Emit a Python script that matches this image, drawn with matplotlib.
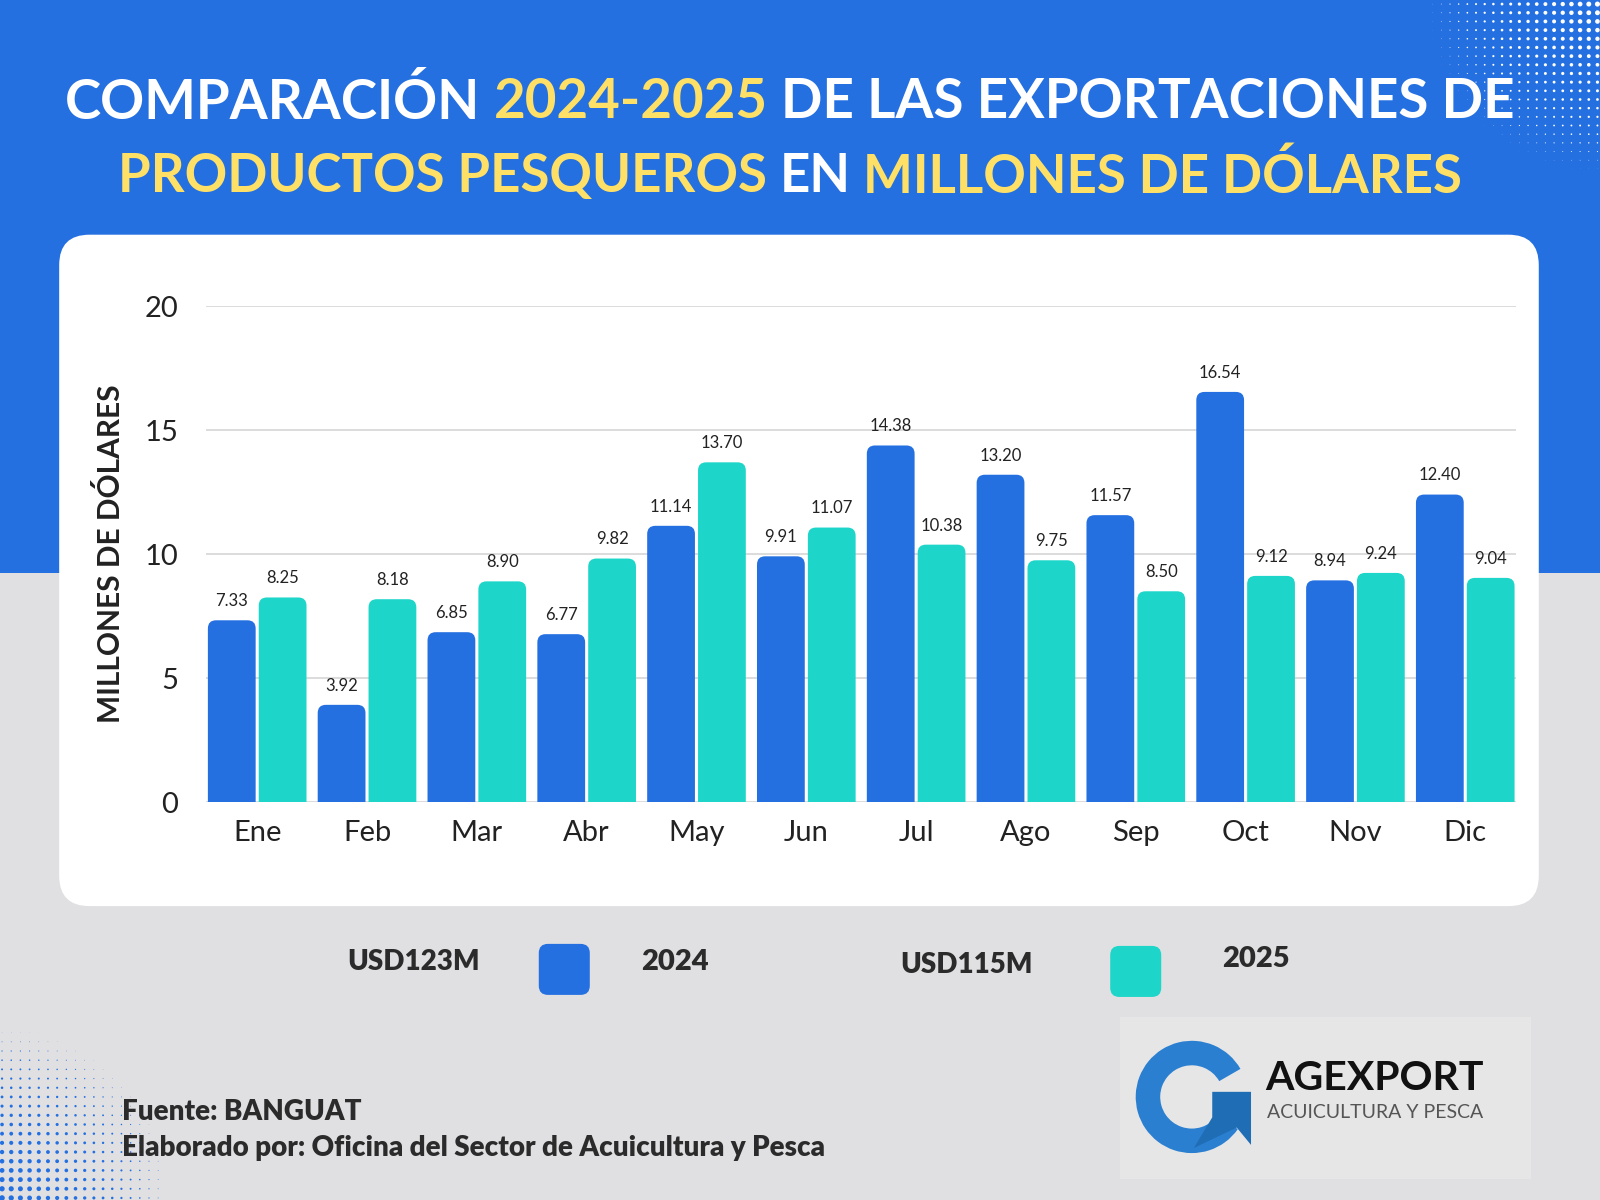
import numpy as np
import matplotlib
matplotlib.use("Agg")
import matplotlib.pyplot as plt
from matplotlib.patches import FancyBboxPatch, Rectangle, Wedge, Polygon

# Data
months = ["Ene", "Feb", "Mar", "Abr", "May", "Jun", "Jul", "Ago", "Sep", "Oct", "Nov", "Dic"]
exp_2024 = [7.33, 3.92, 6.85, 6.77, 11.14, 9.91, 14.38, 13.20, 11.57, 16.54, 8.94, 12.40]
exp_2025 = [8.25, 8.18, 8.90, 9.82, 13.70, 11.07, 10.38, 9.75, 8.50, 9.12, 9.24, 9.04]
totals = ["USD123M", "USD115M"]
years = ["2024", "2025"]

BLUE = "#2570E1"
TEAL = "#1DD6C9"
YELLOW = "#FFE066"
BG = "#E0E0E2"
DARK = "#222222"
FONT = "Lato"

# reference canvas is 1568x1176, map to figure fractions
RW, RH = 1568, 1176
def fx(x):
    return x / RW
def fy(y):
    return 1 - y / RH

fig = plt.figure(figsize=(16, 12), dpi=100)
fig.patch.set_facecolor(BG)

# blue header band
fig.patches.append(Rectangle((0, fy(562)), 1, 1 - fy(562), transform=fig.transFigure,
                             facecolor=BLUE, edgecolor="none", zorder=0))
# white card
fig.patches.append(FancyBboxPatch((fx(58), fy(888)), fx(1508) - fx(58), fy(230) - fy(888),
                                  boxstyle="round,pad=0,rounding_size=0.019",
                                  mutation_aspect=RW / RH, transform=fig.transFigure,
                                  facecolor="white", edgecolor="none", zorder=1))

# decorative dots, top right (white) and bottom left (blue)
dots = fig.add_axes([0, 0, 1, 1], zorder=0.5)
dots.set_xlim(0, RW); dots.set_ylim(RH, 0); dots.axis("off")
gx, gy = np.meshgrid(np.arange(1404, 1570, 8.5), np.arange(4, 170, 8.5))
d = np.hypot(1568 - gx, gy) / 170
s = np.clip(14 * (1 - d) ** 1.5, 0, None)
dots.scatter(gx.ravel(), gy.ravel(), s=s.ravel(), c="white", linewidths=0)
bx, by = np.meshgrid(np.arange(2, 160, 9), np.arange(1012, 1176, 9))
d2 = np.hypot(bx, 1176 - by) / 170
s2 = np.clip(16 * (1 - d2) ** 1.5, 0, None)
dots.scatter(bx.ravel(), by.ravel(), s=s2.ravel(), c=BLUE, linewidths=0)

# logo block
dots.add_patch(Rectangle((1098, 997), 402, 158, facecolor="#E6E6E7", edgecolor="none"))
dots.add_patch(Wedge((1168, 1075), 55, 35, 330, width=24, facecolor="#2A7FD0", edgecolor="none"))
dots.add_patch(Polygon([[1188, 1070], [1226, 1070], [1226, 1122], [1212, 1105], [1170, 1125], [1188, 1095]],
                       closed=True, facecolor="#1F6DB5", edgecolor="none"))
dots.text(1240, 1057, "AGEXPORT", fontsize=29.5, fontweight="bold", family=FONT, color="#111111",
          va="center", ha="left")
dots.text(1242, 1090, "ACUICULTURA Y PESCA", fontsize=14, family=FONT, color="#555555",
          va="center", ha="left")

# main axes
ax = fig.add_axes([fx(202), fy(786), fx(1486) - fx(202), fy(300) - fy(786)], zorder=2)
ax.set_facecolor("none")
x = np.arange(len(months))
w = 0.435
off = 0.2315
px_x = (1486 - 202) / 11.93
px_y = 486 / 20.0
r = 8 / px_x
asp = (8 / px_y) / r
for vals, col, o in [(exp_2024, BLUE, -off), (exp_2025, TEAL, off)]:
    bars = ax.bar(x + o, vals, w, color=col)
    for b, v in zip(bars, vals):
        bx0 = b.get_x()
        b.remove()
        ax.add_patch(FancyBboxPatch((bx0, -1), w, v + 1,
                                    boxstyle=f"round,pad=0,rounding_size={r}",
                                    mutation_aspect=asp, facecolor=col, edgecolor="none", zorder=3))
        ax.annotate(f"{v:.2f}", (bx0 + w / 2, v), xytext=(0, 8), textcoords="offset points",
                    ha="center", va="bottom", fontsize=12, family=FONT, color=DARK)

ax.set_xlim(-0.465, 11.465)
ax.set_ylim(0, 20)
ax.set_yticks([0, 5, 10, 15, 20])
ax.yaxis.grid(True, color="#D6D6D6", linewidth=1.2)
ax.set_axisbelow(True)
ax.set_xticks(x)
ax.set_xticklabels(months)
ax.tick_params(axis="both", length=0, labelsize=21, labelcolor=DARK)
ax.tick_params(axis="y", pad=20)
ax.tick_params(axis="x", pad=13)
for lab in ax.get_xticklabels() + ax.get_yticklabels():
    lab.set_family(FONT)
for sp in ax.spines.values():
    sp.set_visible(False)

fig.text(fx(108), fy(543), "MILLONES DE DÓLARES", rotation=90, ha="center", va="center",
         fontsize=21.5, fontweight="bold", family=FONT, color=DARK, zorder=3)

# title with coloured segments
renderer = fig.canvas.get_renderer()
def colored_line(parts, ycen, size):
    texts = []
    for s_, c in parts:
        t = fig.text(0, fy(ycen), s_, color=c, fontsize=size, fontweight="bold", family=FONT,
                     va="center", ha="left", zorder=3)
        texts.append(t)
    sp = fig.text(0, 0, "A A", fontsize=size, fontweight="bold", family=FONT)
    sp2 = fig.text(0, 0, "AA", fontsize=size, fontweight="bold", family=FONT)
    space = sp.get_window_extent(renderer).width - sp2.get_window_extent(renderer).width
    sp.remove(); sp2.remove()
    widths = [t.get_window_extent(renderer).width for t in texts]
    total = sum(widths) + space * (len(texts) - 1)
    figw = fig.bbox.width
    xpos = fx(774) * figw - total / 2
    for t, wd in zip(texts, widths):
        t.set_x(xpos / figw)
        xpos += wd + space

colored_line([("COMPARACIÓN", "white"), ("2024-2025", YELLOW),
              ("DE LAS EXPORTACIONES DE", "white")], 100, 39.3)
colored_line([("PRODUCTOS PESQUEROS", YELLOW), ("EN", "white"),
              ("MILLONES DE DÓLARES", YELLOW)], 173, 38)

# legend
leg = fig.add_axes([0, 0, 1, 1], zorder=3)
leg.set_xlim(0, RW); leg.set_ylim(RH, 0); leg.axis("off")
for tot, yr, col, tx, sx, yx, yt, ys, yy in [
        (totals[0], years[0], BLUE, 340, 528, 628, 943, 925, 943),
        (totals[1], years[1], TEAL, 882, 1088, 1198, 946, 927, 940)]:
    leg.text(tx, yt, tot, fontsize=20, fontweight="heavy", family=FONT, color="#2B2B2B",
             ha="left", va="center")
    leg.add_patch(FancyBboxPatch((sx, ys), 50, 50, boxstyle="round,pad=0,rounding_size=9",
                                 facecolor=col, edgecolor="none"))
    leg.text(yx, yy, yr, fontsize=21, fontweight="heavy", family=FONT, color="#2B2B2B",
             ha="left", va="center")

leg.text(120, 1090, "Fuente: BANGUAT", fontsize=20, fontweight="heavy", family=FONT,
         color="#2B2B2B", ha="left", va="center")
leg.text(120, 1125, "Elaborado por: Oficina del Sector de Acuicultura y Pesca", fontsize=20,
         fontweight="heavy", family=FONT, color="#2B2B2B", ha="left", va="center")

fig.savefig("out.png", dpi=100, facecolor=fig.get_facecolor())
